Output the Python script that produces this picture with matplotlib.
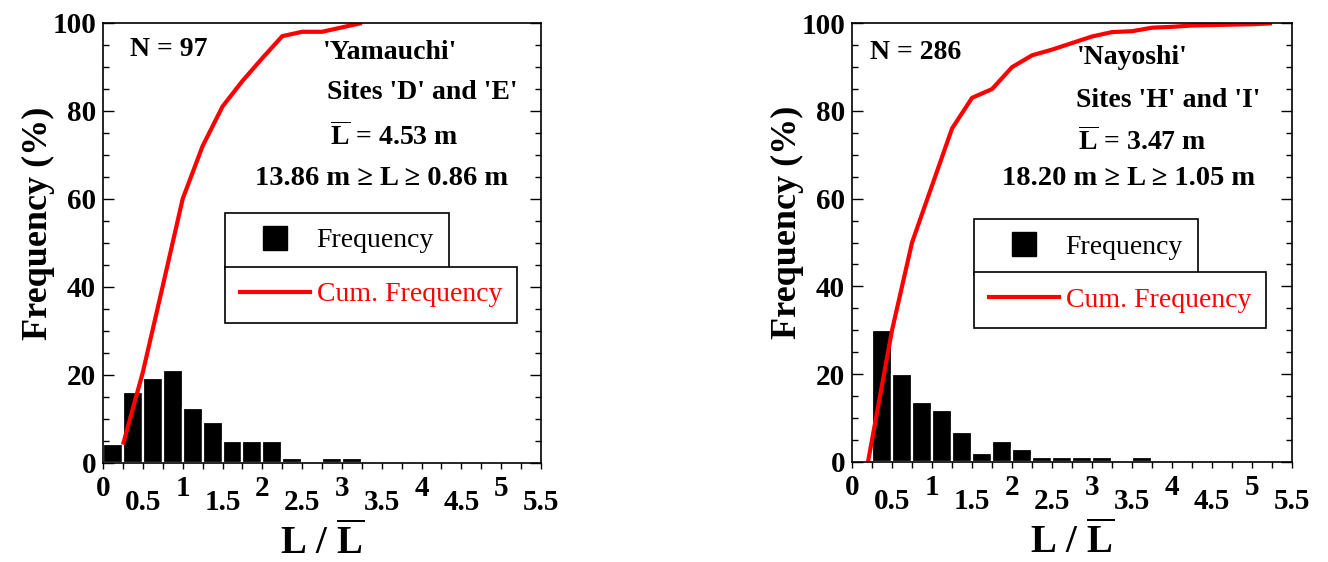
import matplotlib
matplotlib.use('Agg')
import matplotlib.pyplot as plt
from matplotlib.ticker import FixedLocator, FuncFormatter, MultipleLocator
from matplotlib.lines import Line2D

plt.rcParams['font.family'] = ['Liberation Serif', 'DejaVu Serif']
plt.rcParams['mathtext.fontset'] = 'custom'
plt.rcParams['mathtext.rm'] = 'Liberation Serif:bold'
plt.rcParams['mathtext.bf'] = 'Liberation Serif:bold'

# bin left edges (L / Lbar), width 0.25
yam_bins = [0.0, 0.25, 0.5, 0.75, 1.0, 1.25, 1.5, 1.75, 2.0, 2.25, 2.5, 2.75, 3.0]
yam_freq = [4.2, 16.1, 19.2, 21.0, 12.4, 9.2, 5.0, 5.0, 5.0, 1.1, 0.0, 1.1, 1.1]
yam_cum_x = [0.25, 0.5, 0.75, 1.0, 1.25, 1.5, 1.75, 2.0, 2.25, 2.5, 2.75, 3.0, 3.25]
yam_cum = [4.1, 20.6, 40.2, 60.0, 72.0, 81.0, 86.8, 92.0, 97.0, 98.0, 98.0, 99.0, 100.0]

nay_bins = [0.0, 0.25, 0.5, 0.75, 1.0, 1.25, 1.5, 1.75, 2.0, 2.25, 2.5, 2.75, 3.0, 3.25, 3.5]
nay_freq = [0.0, 30.0, 20.0, 13.6, 11.7, 6.7, 2.0, 4.8, 2.8, 1.0, 1.0, 1.0, 1.0, 0.0, 1.0]
nay_cum_x = [0.2, 0.5, 0.75, 1.0, 1.25, 1.5, 1.75, 2.0, 2.25, 2.5, 2.75, 3.0, 3.25,
             3.5, 3.75, 4.0, 4.25, 4.5, 4.75, 5.0, 5.25]
nay_cum = [0.0, 30.0, 50.0, 63.0, 76.0, 83.0, 85.0, 90.0, 92.7, 94.0, 95.5, 97.0, 98.0,
           98.2, 99.0, 99.2, 99.5, 99.6, 99.7, 99.8, 100.0]

x_major = [0, 1, 2, 3, 4, 5]
x_minor = [0.25, 0.5, 0.75, 1.25, 1.5, 1.75, 2.25, 2.5, 2.75, 3.25, 3.5, 3.75,
           4.25, 4.5, 4.75, 5.25, 5.5]

panels = [
    dict(bins=yam_bins, freq=yam_freq, cx=yam_cum_x, cy=yam_cum,
         n='N = 97', name="'Yamauchi'", sites="Sites 'D' and 'E'",
         mean=r'$\overline{\mathbf{L}}$ = 4.53 m', rng='13.86 m \u2265 L \u2265 0.86 m',
         pos=[0.0776, 0.1767, 0.3298, 0.7824],
         npos=(0.062, 0.9386), tpos=[(0.502, 0.934), (0.511, 0.842), (0.518, 0.7225), (0.347, 0.647)],
         leg1=(0.2785, 0.5686), leg2=(0.2785, 0.4458)),
    dict(bins=nay_bins, freq=nay_freq, cx=nay_cum_x, cy=nay_cum,
         n='N = 286', name="'Nayoshi'", sites="Sites 'H' and 'I'",
         mean=r'$\overline{\mathbf{L}}$ = 3.47 m', rng='18.20 m \u2265 L \u2265 1.05 m',
         pos=[0.6416, 0.1785, 0.3313, 0.7800],
         npos=(0.041, 0.934), tpos=[(0.51, 0.923), (0.51, 0.825), (0.513, 0.711), (0.34, 0.647)],
         leg1=(0.277, 0.553), leg2=(0.277, 0.433)),
]

fig = plt.figure(figsize=(13.28, 5.62), dpi=100)

for p in panels:
    ax = fig.add_axes(p['pos'])
    ax.bar(p['bins'], p['freq'], width=0.25, align='edge', color='black',
           edgecolor='white', linewidth=1.6, zorder=2)
    ax.plot(p['cx'], p['cy'], color='red', linewidth=3, zorder=3, solid_capstyle='butt')

    ax.set_xlim(0, 5.5)
    ax.set_ylim(0, 100)
    for s in ax.spines.values():
        s.set_linewidth(1.2)
        s.set_zorder(4)

    ax.xaxis.set_major_locator(FixedLocator(x_major))
    ax.xaxis.set_minor_locator(FixedLocator(x_minor))
    ax.xaxis.set_major_formatter(FuncFormatter(lambda v, pos: f'{v:g}'))
    ax.xaxis.set_minor_formatter(FuncFormatter(
        lambda v, pos: f'{v:g}' if abs(v % 1 - 0.5) < 1e-6 else ''))
    ax.tick_params(axis='x', which='both', direction='out', length=4, width=1,
                   labelsize=21, top=False)
    ax.tick_params(axis='x', which='major', pad=5)
    ax.tick_params(axis='x', which='minor', pad=15)
    for lab in ax.get_xticklabels(which='both'):
        lab.set_fontweight('bold')

    ax.yaxis.set_major_locator(MultipleLocator(20))
    ax.yaxis.set_minor_locator(MultipleLocator(5))
    ax.tick_params(axis='y', which='major', direction='in', length=8, width=1,
                   right=True, labelsize=21, pad=5)
    ax.tick_params(axis='y', which='minor', direction='in', length=4, width=1, right=True)
    for lab in ax.get_yticklabels():
        lab.set_fontweight('bold')

    ax.set_ylabel('Frequency (%)', fontsize=26, fontweight='bold', labelpad=1)
    ax.yaxis.set_label_coords(-0.11, 0.545)
    ax.set_xlabel(r'L / $\overline{\mathbf{L}}$', fontsize=28, fontweight='bold', labelpad=5)

    ax.text(p['npos'][0], p['npos'][1], p['n'], transform=ax.transAxes,
            fontsize=20, fontweight='bold', va='center', ha='left')
    (x1, y1), (x2, y2), (x3, y3), (x4, y4) = p['tpos']
    ax.text(x1, y1, p['name'], transform=ax.transAxes, fontsize=20, fontweight='bold', va='center')
    ax.text(x2, y2, p['sites'], transform=ax.transAxes, fontsize=20, fontweight='bold', va='center')
    ax.text(x3, y3, p['mean'], transform=ax.transAxes, fontsize=20, fontweight='bold', va='baseline')
    ax.text(x4, y4, p['rng'], transform=ax.transAxes, fontsize=20.5, fontweight='bold', va='center')

    h1 = Line2D([], [], marker='s', linestyle='', color='black', markersize=17)
    h2 = Line2D([], [], color='red', linewidth=3)
    leg1 = ax.legend([h1], ['Frequency'], loc='upper left', bbox_to_anchor=p['leg1'],
                     borderaxespad=0, fancybox=False, edgecolor='black', framealpha=1,
                     fontsize=20, handlelength=2.5, handletextpad=0.25, borderpad=0.55)
    leg1.get_frame().set_linewidth(1.2)
    ax.add_artist(leg1)
    leg2 = ax.legend([h2], ['Cum. Frequency'], loc='upper left', bbox_to_anchor=p['leg2'],
                     borderaxespad=0, fancybox=False, edgecolor='black', framealpha=1,
                     fontsize=20, handlelength=2.5, handletextpad=0.25, borderpad=0.55)
    leg2.get_frame().set_linewidth(1.2)
    for t in leg2.get_texts():
        t.set_color('red')

fig.savefig('out.png', dpi=100)
